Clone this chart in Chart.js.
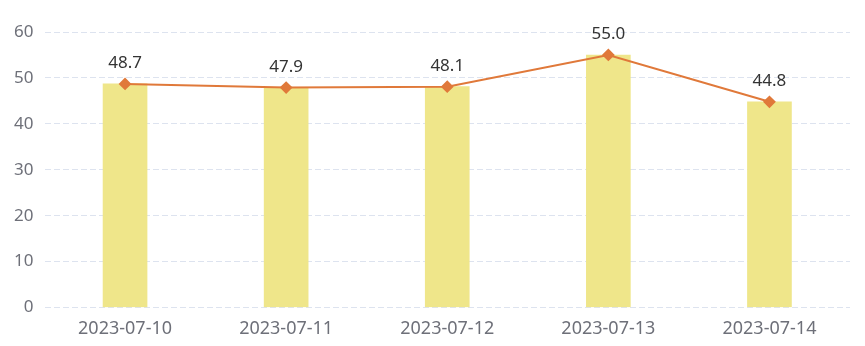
<!DOCTYPE html>
<html>
<head>
<meta charset="utf-8">
<script src="https://cdn.jsdelivr.net/npm/chart.js@4/dist/chart.umd.min.js"></script>
<style>
  html, body { margin: 0; padding: 0; background: #fff; }
  #wrap { width: 865px; height: 346px; }
</style>
</head>
<body>
<div id="wrap"><canvas id="myChart"></canvas></div>
<script>
const dates = ["2023-07-10", "2023-07-11", "2023-07-12", "2023-07-13", "2023-07-14"]
const barValues = [48.7, 47.9, 48.1, 55.0, 44.8]
const lineValues = [48.7, 47.9, 48.1, 55.0, 44.8]
const yTicks = [0, 10, 20, 30, 40, 50, 60]

// value labels above the line points
const pointLabels = {
  id: 'pointLabels',
  afterDatasetsDraw(chart) {
    const ctx = chart.ctx
    const meta = chart.getDatasetMeta(1)
    ctx.save()
    ctx.font = '17px "Noto Sans", sans-serif'
    ctx.fillStyle = '#333'
    ctx.textAlign = 'center'
    ctx.textBaseline = 'alphabetic'
    meta.data.forEach((pt, i) => {
      ctx.fillText(lineValues[i].toFixed(1), pt.x, pt.y - 16)
    })
    ctx.restore()
  }
}

const el = document.getElementById('myChart')
new Chart(el, {
  data: {
    labels: dates,
    datasets: [
      {
        type: 'bar',
        data: barValues,
        backgroundColor: '#efe68a',
        barThickness: 44,
        order: 2
      },
      {
        type: 'line',
        data: lineValues,
        borderColor: '#e0793a',
        borderWidth: 2,
        pointStyle: 'rectRot',
        pointRadius: 5,
        pointBackgroundColor: '#e0793a',
        pointBorderColor: '#e0793a',
        tension: 0,
        order: 1
      }
    ]
  },
  options: {
    responsive: true,
    maintainAspectRatio: false,
    animation: false,
    layout: { padding: { top: 32, right: 15, left: 0, bottom: 0 } },
    plugins: {
      legend: { display: false },
      tooltip: { enabled: false }
    },
    scales: {
      x: {
        grid: { display: false },
        border: { display: false },
        ticks: {
          color: '#6e7079',
          font: { family: '"Noto Sans", sans-serif', size: 18 },
          padding: 3
        },
        afterFit(scale) { scale.height = 38.5 }
      },
      y: {
        min: 0,
        max: 60,
        afterBuildTicks(scale) { scale.ticks = yTicks.map(v => ({ value: v })) },
        grid: { color: '#dde3ef', lineWidth: 1, drawTicks: false },
        border: { display: false, dash: [6, 3] },
        ticks: {
          color: '#6e7079',
          font: { family: '"Noto Sans", sans-serif', size: 17 },
          padding: 11
        },
        afterFit(scale) { scale.width = 44.5 }
      }
    }
  },
  plugins: [pointLabels]
})
</script>
</body>
</html>
